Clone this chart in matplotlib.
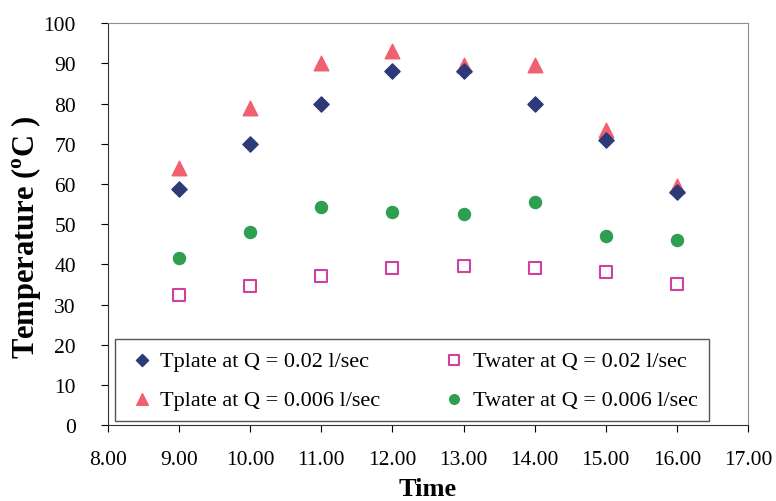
import matplotlib.pyplot as plt

# Time of day (hours)
time = [9, 10, 11, 12, 13, 14, 15, 16]

# Temperatures (deg C)
tplate_002 = [58.7, 70, 80, 88, 88, 80, 71, 58]
twater_002 = [32.5, 34.5, 37, 39, 39.5, 39, 38, 35]
tplate_0006 = [64, 79, 90.2, 93, 89.5, 89.5, 73.5, 59.5]
twater_0006 = [41.5, 48, 54.2, 53, 52.5, 55.5, 47, 46]

xticks = [8, 9, 10, 11, 12, 13, 14, 15, 16, 17]
yticks = list(range(0, 101, 10))

plt.rcParams['font.family'] = ['Liberation Serif', 'DejaVu Serif']
plt.rcParams['mathtext.fontset'] = 'custom'
plt.rcParams['mathtext.rm'] = 'Liberation Serif:bold'

fig = plt.figure(figsize=(7.76, 5.02), dpi=100)
ax = fig.add_axes([0.139, 0.151, 0.825, 0.801])

ax.scatter(time, tplate_002, marker='D', s=60, color='#2E3A78',
           label='Tplate at Q = 0.02 l/sec', zorder=3)
ax.scatter(time, tplate_0006, marker='^', s=110, color='#F0606E',
           label='Tplate at Q = 0.006 l/sec', zorder=2)
ax.scatter(time, twater_002, marker='s', s=70, facecolor='white',
           edgecolor='#D040A0', linewidth=1.5,
           label='Twater at Q = 0.02 l/sec', zorder=3)
ax.scatter(time, twater_0006, marker='o', s=75, color='#2E9E50',
           label='Twater at Q = 0.006 l/sec', zorder=3)

ax.set_xlim(8, 17)
ax.set_ylim(0, 100)
ax.set_xticks(xticks)
ax.set_xticklabels([f'{v:.2f}' for v in xticks], fontsize=15.5)
ax.set_yticks(yticks)
ax.set_yticklabels([str(v) for v in yticks], fontsize=15.5)
ax.tick_params(direction='out', length=5, width=0.8)
ax.tick_params(axis='x', pad=13)
ax.tick_params(axis='y', pad=18)

ax.spines['left'].set_color('#333333')
ax.spines['bottom'].set_color('#333333')
ax.spines['top'].set_color('#8A8FA0')
ax.spines['right'].set_color('#8A8FA0')

ax.set_xlabel('Time', fontsize=19, fontweight='bold')
ax.xaxis.set_label_coords(0.5, -0.128)
ax.set_ylabel(r'Temperature ($^{\mathrm{o}}$C )', fontsize=22,
              fontweight='bold')
ax.yaxis.set_label_coords(-0.102, 0.468)

ax.legend(ncol=2, loc='lower left', bbox_to_anchor=(0.011, 0.01),
          fontsize=16, frameon=True, fancybox=False, edgecolor='#555555',
          framealpha=1, handlelength=1.4, handletextpad=0.15,
          columnspacing=2.6, borderpad=0.5, labelspacing=0.85,
          scatterpoints=1, markerscale=0.8, borderaxespad=0)

fig.savefig('out.png', dpi=100)
